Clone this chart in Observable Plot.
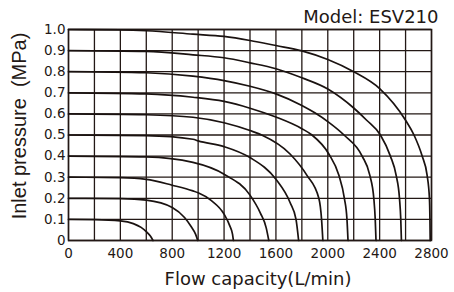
<!DOCTYPE html>
<html>
<head>
<meta charset="utf-8">
<script src="https://cdn.jsdelivr.net/npm/d3@7"></script>
<script src="https://cdn.jsdelivr.net/npm/@observablehq/plot@0.6"></script>
<style>
  html, body { margin: 0; padding: 0; background: #fff; }
</style>
</head>
<body>
<div id="chart"></div>
<script>
// Inlet pressure levels (MPa) – one curve each
const pressures = ["0.1", "0.2", "0.3", "0.4", "0.5", "0.6", "0.7", "0.8", "0.9", "1.0"];

// Flow capacity (L/min) and outlet pressure (MPa)
const flow01 = [0, 200, 400, 500, 560, 600, 630, 652];
const pres01 = [0.1, 0.099, 0.093, 0.08, 0.062, 0.042, 0.022, 0];
const flow02 = [0, 400, 600, 800, 895, 947, 980, 997];
const pres02 = [0.2, 0.198, 0.191, 0.156, 0.109, 0.065, 0.03, 0];
const flow03 = [0, 400, 600, 800, 960, 1000, 1100, 1200, 1245, 1265, 1272];
const pres03 = [0.3, 0.298, 0.29, 0.262, 0.235, 0.226, 0.19, 0.125, 0.068, 0.03, 0];
const flow04 = [0, 600, 960, 1200, 1400, 1480, 1525, 1545];
const pres04 = [0.4, 0.396, 0.37, 0.314, 0.215, 0.13, 0.06, 0];
const flow05 = [0, 600, 960, 1000, 1200, 1400, 1600, 1709, 1755, 1775];
const pres05 = [0.5, 0.497, 0.48, 0.472, 0.445, 0.393, 0.29, 0.18, 0.1, 0];
const flow06 = [0, 600, 960, 1200, 1400, 1490, 1709, 1838, 1931, 1952, 1962];
const pres06 = [0.6, 0.596, 0.584, 0.558, 0.521, 0.5, 0.41, 0.31, 0.2, 0.1, 0];
const flow07 = [0, 600, 960, 1200, 1400, 1600, 1800, 1878, 2008, 2085, 2128, 2148, 2156];
const pres07 = [0.7, 0.695, 0.679, 0.659, 0.627, 0.585, 0.53, 0.5, 0.41, 0.31, 0.2, 0.1, 0];
const flow08 = [0, 600, 960, 1200, 1400, 1600, 1800, 1900, 2008, 2125, 2265, 2324, 2355, 2366, 2372];
const pres08 = [0.8, 0.795, 0.779, 0.758, 0.731, 0.695, 0.64, 0.605, 0.56, 0.5, 0.4, 0.31, 0.2, 0.1, 0];
const flow09 = [0, 600, 960, 1200, 1400, 1600, 1800, 2000, 2200, 2300, 2406, 2483, 2527, 2553, 2563, 2568];
const pres09 = [0.9, 0.896, 0.88, 0.866, 0.842, 0.814, 0.771, 0.718, 0.628, 0.57, 0.5, 0.4, 0.31, 0.2, 0.1, 0];
const flow10 = [0, 400, 600, 960, 1200, 1400, 1600, 1800, 2000, 2200, 2400, 2600, 2665, 2728, 2766, 2784, 2788, 2790];
const pres10 = [1.0, 0.998, 0.994, 0.978, 0.967, 0.948, 0.924, 0.899, 0.858, 0.8, 0.72, 0.57, 0.5, 0.4, 0.31, 0.2, 0.1, 0];

// Axis ticks and grid
const xTicks = [0, 400, 800, 1200, 1600, 2000, 2400, 2800];
const yTicks = [0, 0.1, 0.2, 0.3, 0.4, 0.5, 0.6, 0.7, 0.8, 0.9, 1.0];
const xGrid = [0, 200, 400, 600, 800, 1000, 1200, 1400, 1600, 1800, 2000, 2200, 2400, 2600, 2800];
const yGrid = [0, 0.1, 0.2, 0.3, 0.4, 0.5, 0.6, 0.7, 0.8, 0.9, 1.0];

const titleText = "Model: ESV210";
const xLabel = "Flow capacity(L/min)";
const yLabel = "Inlet pressure  (MPa)";

const flows = [flow01, flow02, flow03, flow04, flow05, flow06, flow07, flow08, flow09, flow10];
const press = [pres01, pres02, pres03, pres04, pres05, pres06, pres07, pres08, pres09, pres10];
const table = [];
pressures.forEach((s, i) => {
  flows[i].forEach((f, j) => table.push({s, f, p: press[i][j]}));
});

const ink = "#231815";

const chart = Plot.plot({
  width: 454,
  height: 292,
  marginLeft: 68,
  marginRight: 23,
  marginTop: 29,
  marginBottom: 52,
  style: {fontFamily: "'DejaVu Sans', sans-serif", background: "#fff", color: ink},
  x: {domain: [0, 2800]},
  y: {domain: [0, 1]},
  marks: [
    Plot.ruleX(xGrid, {stroke: ink, strokeWidth: 1.3}),
    Plot.ruleY(yGrid, {stroke: ink, strokeWidth: 1.3}),
    Plot.frame({stroke: ink, strokeWidth: 1.5}),
    Plot.line(table, {x: "f", y: "p", z: "s", curve: "monotone-x", stroke: "#1a1210", strokeWidth: 1.7}),
    Plot.axisX({ticks: xTicks, tickSize: 0, tickPadding: 7.5, fontSize: 13.5, label: null, tickFormat: d => String(d)}),
    Plot.axisY({ticks: yTicks, tickSize: 0, tickPadding: 3, fontSize: 13.5, label: null,
      tickFormat: d => d === 0 ? "0" : d.toFixed(1)}),
    Plot.text([xLabel], {frameAnchor: "bottom", textAnchor: "middle", lineAnchor: "bottom", dx: 8, dy: 44, fontSize: 18, fill: ink}),
    Plot.text([yLabel], {frameAnchor: "left", textAnchor: "middle", lineAnchor: "bottom", rotate: -90, dx: -43, dy: -9,
      fontSize: 20, fontFamily: "'Liberation Sans', Arial, sans-serif", fill: ink}),
    Plot.text([titleText], {frameAnchor: "top-right", textAnchor: "end", lineAnchor: "bottom", dx: 7, dy: -6.5, fontSize: 18, fill: ink})
  ]
});
document.getElementById("chart").appendChild(chart);
</script>
</body>
</html>
